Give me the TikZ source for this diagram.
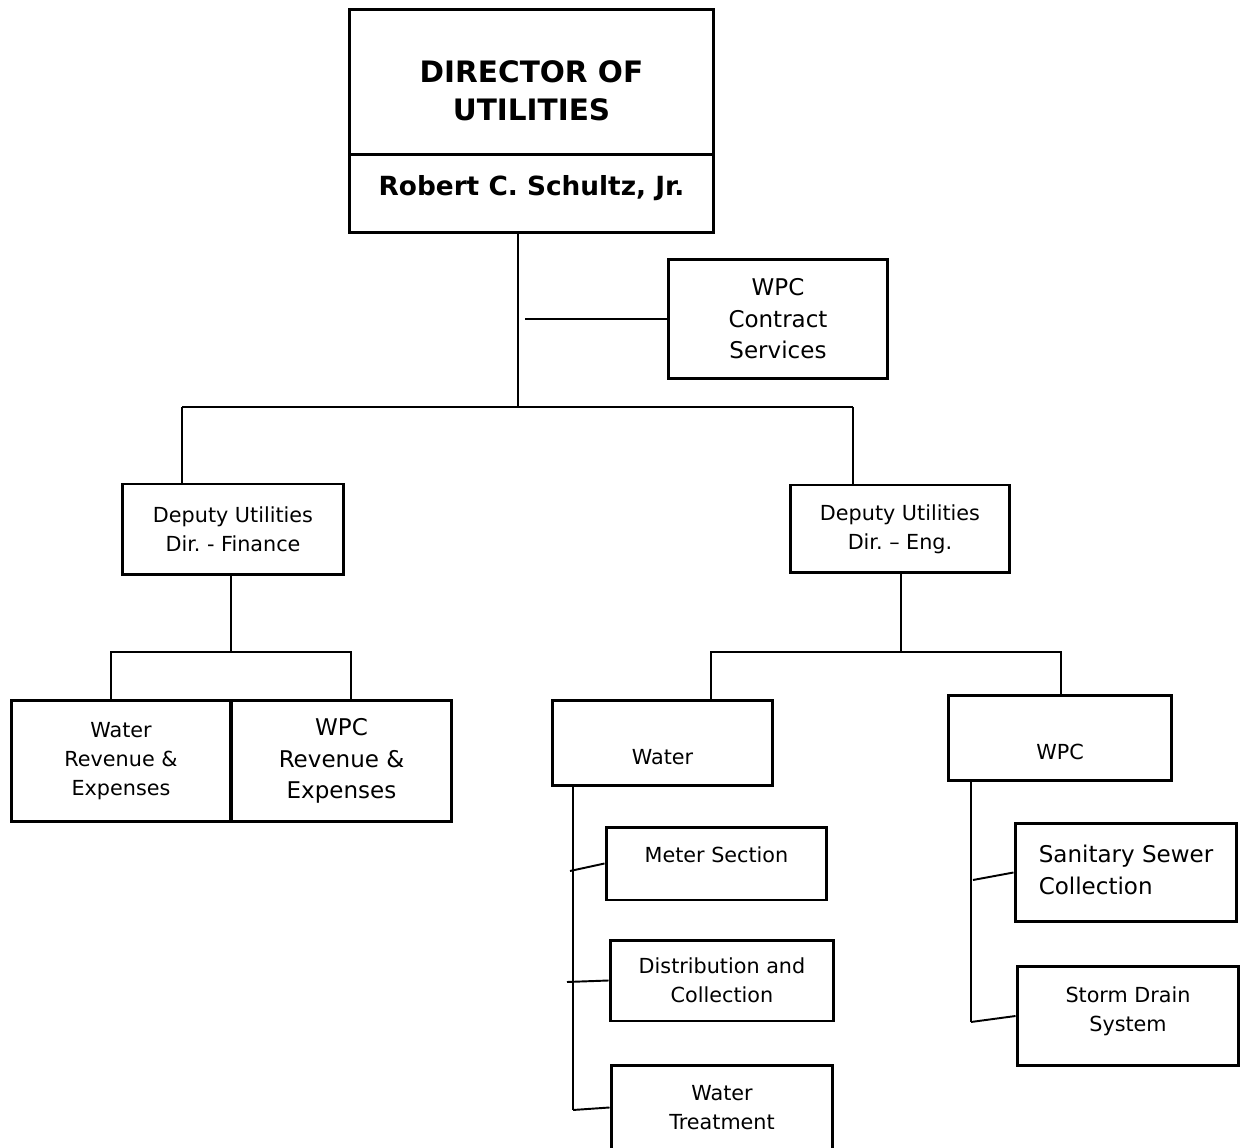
\documentclass[tikz,border=0pt]{standalone}
\usepackage{fontspec}
\setmainfont{DejaVu Sans}
\usetikzlibrary{positioning,calc}

\tikzset{
  unit/.style={draw, line width=1.7pt, align=center, inner sep=2pt},
  link/.style={line width=1.1pt},
  smalltxt/.style={font=\fontsize{11.8}{16.4}\selectfont},
  bigtxt/.style={font=\fontsize{13.1}{18}\selectfont},
}

\begin{document}
\begin{tikzpicture}[x=0.02cm, y=-0.02cm]
  \useasboundingbox (0,0) rectangle (1245,1148);

  % Director
  \node[unit, minimum width=7.3cm, minimum height=2.92cm, text height=44pt, text depth=0pt,
        font=\bfseries\fontsize{16.8}{21.5}\selectfont] (dirtitle) at (531.5,82) {DIRECTOR OF\\UTILITIES};
  \node[unit, minimum width=7.3cm, minimum height=1.56cm, text height=8pt, text depth=6pt,
        font=\bfseries\fontsize{15}{18}\selectfont] (dirname) at (531.5,194) {Robert C. Schultz, Jr.};

  % WPC contract services
  \node[unit, bigtxt, minimum width=4.4cm, minimum height=2.4cm] (contract) at (778,319) {WPC\\Contract\\Services};

  % Deputies
  \node[unit, smalltxt, minimum width=4.44cm, minimum height=1.82cm] (fin) at (233,529.5) {Deputy Utilities\\Dir.\ - Finance};
  \node[unit, smalltxt, minimum width=4.4cm, minimum height=1.76cm] (eng) at (900,529) {Deputy Utilities\\Dir.\ -- Eng.};

  % Finance units
  \node[unit, smalltxt, minimum width=4.4cm, minimum height=2.44cm] (wrev) at (121,761) {Water\\Revenue \&\\Expenses};
  \node[unit, bigtxt, minimum width=4.42cm, minimum height=2.44cm] (prev) at (341.5,761) {WPC\\Revenue \&\\Expenses};

  % Engineering units
  \node[unit, smalltxt, minimum width=4.42cm, minimum height=1.72cm, text height=25pt, text depth=0pt] (water) at (662.5,743) {Water};
  \node[unit, smalltxt, minimum width=4.48cm, minimum height=1.72cm, text height=25pt, text depth=0pt] (wpc) at (1060,738) {WPC};

  % Water sections
  \node[unit, smalltxt, minimum width=4.42cm, minimum height=1.46cm, text height=8pt, text depth=9pt] (meter) at (716.5,863.5) {Meter Section};
  \node[unit, smalltxt, minimum width=4.48cm, minimum height=1.62cm] (dist) at (722,980.5) {Distribution and\\Collection};
  \node[unit, smalltxt, minimum width=4.44cm, minimum height=1.7cm] (treat) at (722,1107.5) {Water\\Treatment};

  % WPC sections
  \node[unit, bigtxt, align=left, minimum width=4.44cm, minimum height=1.98cm, text height=24.6pt, text depth=0pt] (sewer) at (1126,872.5) {Sanitary Sewer\\Collection};
  \node[unit, smalltxt, minimum width=4.44cm, minimum height=2.0cm, text height=20pt, text depth=2.4pt] (storm) at (1128,1016) {Storm Drain\\System};

  % junctions
  \coordinate (trunk) at (518,407);
  \coordinate (busL) at (182,407);
  \coordinate (busR) at (853,407);
  \coordinate (finbus) at (231,652);
  \coordinate (finL) at (111,652);
  \coordinate (finR) at (351,652);
  \coordinate (engbus) at (901,652);
  \coordinate (engL) at (711,652);
  \coordinate (engR) at (1061,652);
  \coordinate (wspine) at (573,1110);
  \coordinate (w1) at (570,871);
  \coordinate (w2) at (567,982);
  \coordinate (pspine) at (971,1022);
  \coordinate (p1) at (973,880);

  % top level
  \draw[link] (trunk |- dirname.south) -- (trunk);
  \draw[link] ([xshift=4pt]trunk |- contract.west) -- (contract.west);
  \draw[link] (busL) -- (busR);
  \draw[link] (busL) -- (busL |- fin.north);
  \draw[link] (busR) -- (busR |- eng.north);

  % finance
  \draw[link] (finbus |- fin.south) -- (finbus);
  \draw[link] (finL |- wrev.north) -- (finL) -- (finR) -- (finR |- prev.north);

  % engineering
  \draw[link] (engbus |- eng.south) -- (engbus);
  \draw[link] (engL |- water.north) -- (engL) -- (engR) -- (engR |- wpc.north);

  % water sections
  \draw[link] (wspine |- water.south) -- (wspine);
  \draw[link] (w1) -- (meter.west);
  \draw[link] (w2) -- (dist.west);
  \draw[link] (wspine) -- (treat.west);

  % wpc sections
  \draw[link] (pspine |- wpc.south) -- (pspine);
  \draw[link] (p1) -- (sewer.west);
  \draw[link] (pspine) -- (storm.west);
\end{tikzpicture}
\end{document}
